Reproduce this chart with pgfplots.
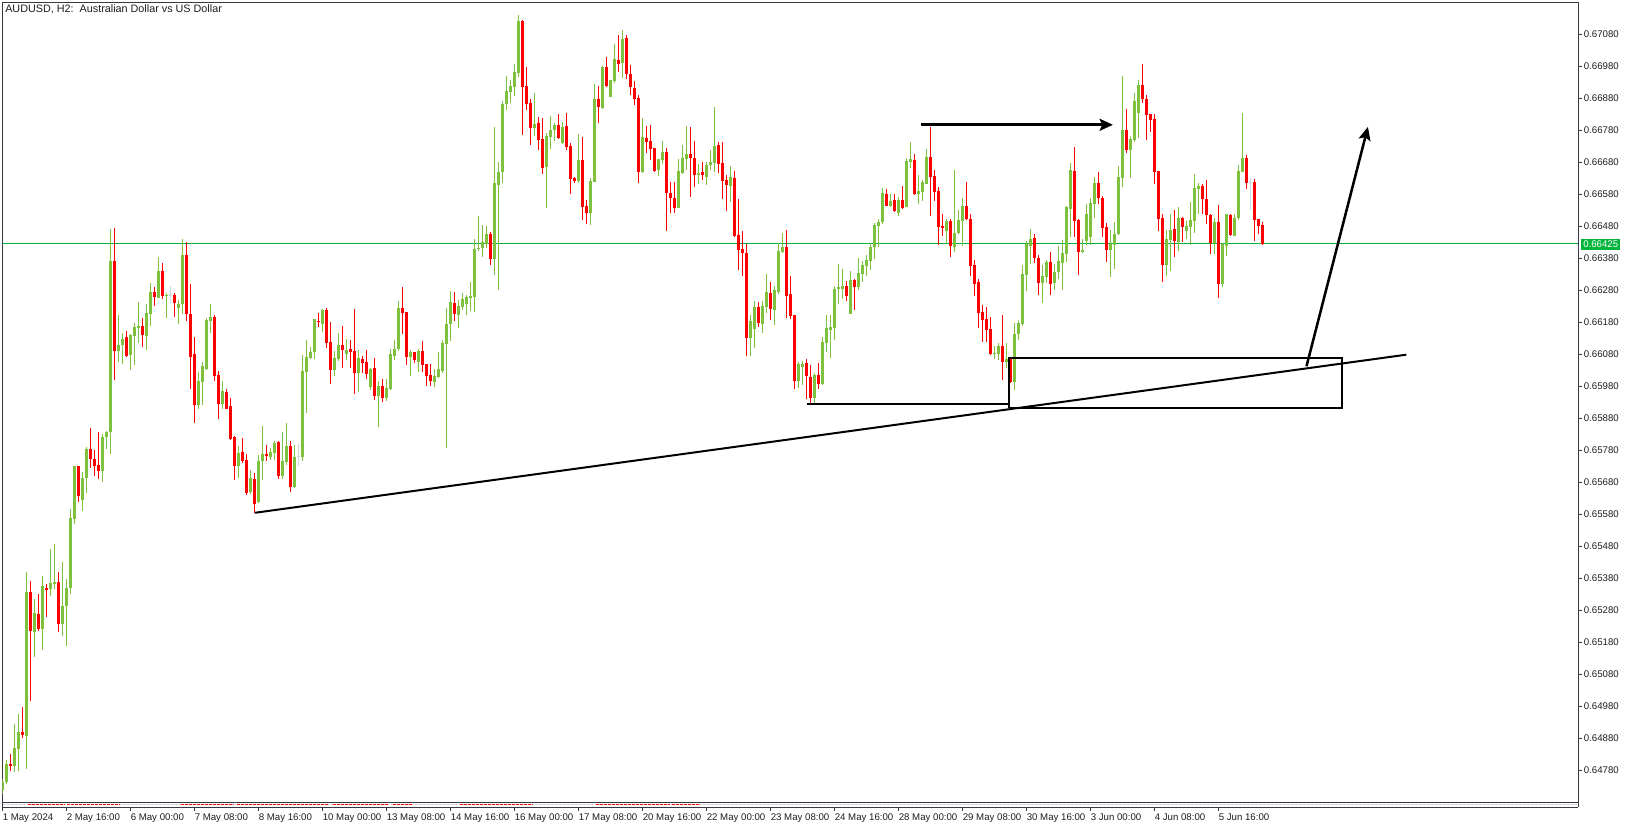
\documentclass[border=0pt]{standalone}
\usepackage{pgfplots}
\pgfplotsset{compat=1.18}
\usepackage{pgfplotstable}
\usepackage{fontspec}
\setmainfont{Liberation Sans}
\usetikzlibrary{arrows.meta}
\definecolor{upc}{RGB}{125,193,62}
\definecolor{dnc}{RGB}{255,0,0}
\definecolor{dojic}{RGB}{205,218,218}
\definecolor{pricegreen}{RGB}{0,180,60}
\definecolor{framec}{RGB}{54,58,64}
\definecolor{txtc}{RGB}{30,30,30}
\newcommand\lbl{\fontsize{7.25}{8.5}\selectfont}
\newcommand\ttl{\fontsize{8.1}{9.5}\selectfont}
\pgfplotstableread{
k o h l c
0 0.64718 0.64752 0.64705 0.64744
1 0.64744 0.64812 0.64739 0.64801
2 0.64801 0.64831 0.64778 0.64795
3 0.64795 0.64924 0.64776 0.64851
4 0.64848 0.64956 0.64778 0.64900
5 0.64900 0.64979 0.64883 0.64891
6 0.64888 0.65400 0.64784 0.65339
7 0.65339 0.65372 0.64998 0.65217
8 0.65212 0.65315 0.65136 0.65274
9 0.65270 0.65332 0.65217 0.65223
10 0.65221 0.65388 0.65155 0.65355
11 0.65352 0.65364 0.65259 0.65344
12 0.65347 0.65473 0.65324 0.65366
13 0.65366 0.65490 0.65347 0.65368
14 0.65367 0.65400 0.65212 0.65236
15 0.65236 0.65431 0.65200 0.65294
16 0.65293 0.65378 0.65167 0.65350
17 0.65349 0.65597 0.65330 0.65569
18 0.65566 0.65732 0.65549 0.65730
19 0.65730 0.65732 0.65619 0.65636
20 0.65626 0.65713 0.65591 0.65692
21 0.65692 0.65789 0.65645 0.65784
22 0.65784 0.65851 0.65726 0.65754
23 0.65754 0.65780 0.65701 0.65732
24 0.65733 0.65837 0.65692 0.65716
25 0.65716 0.65831 0.65681 0.65822
26 0.65822 0.65842 0.65786 0.65837
27 0.65837 0.66473 0.65769 0.66371
28 0.66371 0.66475 0.66000 0.66092
29 0.66092 0.66205 0.66058 0.66109
30 0.66109 0.66148 0.66050 0.66129
31 0.66133 0.66153 0.66073 0.66076
32 0.66080 0.66145 0.66031 0.66143
33 0.66138 0.66177 0.66047 0.66165
34 0.66163 0.66245 0.66117 0.66169
35 0.66169 0.66195 0.66102 0.66141
36 0.66138 0.66239 0.66094 0.66209
37 0.66207 0.66303 0.66169 0.66275
38 0.66275 0.66291 0.66232 0.66259
39 0.66257 0.66384 0.66255 0.66340
40 0.66340 0.66368 0.66255 0.66263
41 0.66263 0.66271 0.66193 0.66266
42 0.66266 0.66294 0.66239 0.66266
43 0.66266 0.66273 0.66197 0.66241
44 0.66225 0.66250 0.66175 0.66237
45 0.66237 0.66441 0.66206 0.66390
46 0.66390 0.66432 0.66184 0.66206
47 0.66209 0.66300 0.65972 0.66075
48 0.66081 0.66134 0.65867 0.65922
49 0.65922 0.66026 0.65911 0.65998
50 0.65994 0.66057 0.65922 0.66044
51 0.66034 0.66195 0.66031 0.66187
52 0.66184 0.66239 0.66148 0.66198
53 0.66198 0.66203 0.65998 0.66013
54 0.66016 0.66028 0.65878 0.65925
55 0.65925 0.65997 0.65911 0.65966
56 0.65962 0.65971 0.65908 0.65911
57 0.65919 0.65943 0.65812 0.65815
58 0.65823 0.65825 0.65687 0.65732
59 0.65732 0.65795 0.65695 0.65774
60 0.65774 0.65820 0.65742 0.65747
61 0.65750 0.65769 0.65640 0.65649
62 0.65649 0.65720 0.65644 0.65693
63 0.65693 0.65710 0.65585 0.65614
64 0.65618 0.65767 0.65616 0.65746
65 0.65746 0.65856 0.65687 0.65768
66 0.65768 0.65796 0.65746 0.65762
67 0.65762 0.65788 0.65751 0.65777
68 0.65772 0.65809 0.65751 0.65802
69 0.65806 0.65809 0.65691 0.65702
70 0.65702 0.65838 0.65691 0.65749
71 0.65744 0.65866 0.65736 0.65793
72 0.65793 0.65810 0.65650 0.65666
73 0.65666 0.65796 0.65664 0.65758
74 0.65761 0.65801 0.65732 0.65761
75 0.65760 0.66078 0.65747 0.66028
76 0.66025 0.66124 0.65897 0.66071
77 0.66069 0.66104 0.66065 0.66090
78 0.66088 0.66190 0.66067 0.66190
79 0.66187 0.66211 0.66166 0.66182
80 0.66176 0.66221 0.66150 0.66218
81 0.66218 0.66226 0.66101 0.66116
82 0.66118 0.66181 0.65988 0.66032
83 0.66032 0.66091 0.66014 0.66068
84 0.66065 0.66146 0.66060 0.66109
85 0.66109 0.66168 0.66039 0.66096
86 0.66081 0.66130 0.66065 0.66096
87 0.66096 0.66127 0.66038 0.66088
88 0.66090 0.66221 0.65957 0.66022
89 0.66022 0.66093 0.65963 0.66068
90 0.66067 0.66074 0.66022 0.66054
91 0.66056 0.66093 0.66005 0.66019
92 0.65977 0.66038 0.65970 0.66034
93 0.66037 0.66067 0.65937 0.65950
94 0.65950 0.65998 0.65854 0.65981
95 0.65981 0.66003 0.65932 0.65945
96 0.65945 0.66003 0.65935 0.65976
97 0.65972 0.66096 0.65968 0.66081
98 0.66076 0.66125 0.66062 0.66097
99 0.66097 0.66247 0.66091 0.66226
100 0.66226 0.66291 0.66146 0.66211
101 0.66213 0.66213 0.66047 0.66073
102 0.66073 0.66094 0.66012 0.66088
103 0.66088 0.66088 0.66054 0.66062
104 0.66057 0.66096 0.66026 0.66091
105 0.66091 0.66122 0.66026 0.66049
106 0.66050 0.66050 0.65982 0.66013
107 0.66015 0.66050 0.65982 0.65995
108 0.65995 0.66036 0.65979 0.66012
109 0.66010 0.66088 0.66005 0.66034
110 0.66029 0.66125 0.66023 0.66116
111 0.66114 0.66226 0.65789 0.66175
112 0.66174 0.66278 0.66122 0.66242
113 0.66242 0.66274 0.66185 0.66205
114 0.66205 0.66252 0.66163 0.66231
115 0.66229 0.66274 0.66221 0.66252
116 0.66237 0.66265 0.66205 0.66260
117 0.66257 0.66306 0.66215 0.66263
118 0.66260 0.66442 0.66213 0.66409
119 0.66409 0.66512 0.66403 0.66414
120 0.66413 0.66484 0.66385 0.66430
121 0.66427 0.66484 0.66413 0.66458
122 0.66458 0.66463 0.66359 0.66377
123 0.66378 0.66791 0.66328 0.66616
124 0.66611 0.66680 0.66281 0.66651
125 0.66651 0.66873 0.66615 0.66864
126 0.66862 0.66950 0.66844 0.66904
127 0.66901 0.66937 0.66865 0.66919
128 0.66915 0.66987 0.66888 0.66964
129 0.66960 0.67140 0.66948 0.67122
130 0.67122 0.67125 0.66766 0.66917
131 0.66919 0.66979 0.66844 0.66862
132 0.66867 0.66878 0.66737 0.66789
133 0.66789 0.66898 0.66762 0.66800
134 0.66802 0.66821 0.66719 0.66750
135 0.66753 0.66820 0.66644 0.66664
136 0.66664 0.66773 0.66539 0.66762
137 0.66760 0.66825 0.66722 0.66781
138 0.66781 0.66802 0.66747 0.66797
139 0.66797 0.66831 0.66753 0.66755
140 0.66743 0.66807 0.66737 0.66792
141 0.66794 0.66835 0.66719 0.66729
142 0.66731 0.66740 0.66581 0.66628
143 0.66632 0.66635 0.66615 0.66622
144 0.66622 0.66769 0.66615 0.66688
145 0.66688 0.66760 0.66502 0.66542
146 0.66544 0.66562 0.66487 0.66523
147 0.66523 0.66632 0.66484 0.66622
148 0.66620 0.66925 0.66620 0.66878
149 0.66878 0.66917 0.66802 0.66854
150 0.66852 0.66982 0.66849 0.66979
151 0.66979 0.67012 0.66917 0.66919
152 0.66885 0.66937 0.66885 0.66937
153 0.66934 0.67050 0.66927 0.67003
154 0.67000 0.67078 0.66964 0.66988
155 0.66990 0.67094 0.66945 0.67066
156 0.67068 0.67078 0.66941 0.66958
157 0.66958 0.66985 0.66890 0.66915
158 0.66915 0.66935 0.66860 0.66880
159 0.66880 0.66890 0.66617 0.66651
160 0.66651 0.66820 0.66646 0.66760
161 0.66757 0.66794 0.66710 0.66745
162 0.66747 0.66797 0.66687 0.66723
163 0.66724 0.66724 0.66651 0.66654
164 0.66656 0.66691 0.66639 0.66691
165 0.66690 0.66747 0.66674 0.66713
166 0.66713 0.66724 0.66464 0.66585
167 0.66586 0.66618 0.66521 0.66570
168 0.66571 0.66618 0.66524 0.66539
169 0.66540 0.66693 0.66540 0.66653
170 0.66649 0.66737 0.66646 0.66693
171 0.66691 0.66792 0.66656 0.66708
172 0.66708 0.66789 0.66570 0.66696
173 0.66696 0.66747 0.66604 0.66641
174 0.66641 0.66674 0.66612 0.66649
175 0.66650 0.66681 0.66625 0.66641
176 0.66635 0.66681 0.66610 0.66674
177 0.66674 0.66719 0.66656 0.66681
178 0.66679 0.66854 0.66651 0.66734
179 0.66734 0.66743 0.66648 0.66675
180 0.66677 0.66743 0.66565 0.66622
181 0.66625 0.66641 0.66529 0.66609
182 0.66607 0.66669 0.66557 0.66633
183 0.66633 0.66653 0.66448 0.66451
184 0.66453 0.66565 0.66344 0.66406
185 0.66409 0.66466 0.66326 0.66396
186 0.66398 0.66427 0.66076 0.66132
187 0.66130 0.66206 0.66078 0.66185
188 0.66158 0.66248 0.66101 0.66228
189 0.66229 0.66244 0.66166 0.66179
190 0.66175 0.66247 0.66148 0.66231
191 0.66229 0.66331 0.66208 0.66276
192 0.66273 0.66305 0.66187 0.66221
193 0.66218 0.66294 0.66171 0.66281
194 0.66276 0.66430 0.66268 0.66404
195 0.66401 0.66460 0.66398 0.66416
196 0.66416 0.66470 0.66194 0.66263
197 0.66268 0.66325 0.66190 0.66201
198 0.66203 0.66203 0.65971 0.65998
199 0.65998 0.66057 0.65977 0.66050
200 0.66041 0.66059 0.65984 0.66050
201 0.66054 0.66067 0.65942 0.66012
202 0.66012 0.66047 0.65927 0.65945
203 0.65945 0.66023 0.65925 0.66015
204 0.66015 0.66054 0.65974 0.65987
205 0.65987 0.66135 0.65986 0.66119
206 0.66116 0.66203 0.66088 0.66163
207 0.66156 0.66203 0.66069 0.66166
208 0.66163 0.66293 0.66125 0.66284
209 0.66284 0.66364 0.66239 0.66291
210 0.66286 0.66349 0.66255 0.66294
211 0.66294 0.66309 0.66248 0.66262
212 0.66206 0.66343 0.66206 0.66312
213 0.66312 0.66317 0.66218 0.66291
214 0.66291 0.66380 0.66281 0.66333
215 0.66333 0.66375 0.66309 0.66359
216 0.66357 0.66392 0.66325 0.66375
217 0.66372 0.66427 0.66343 0.66415
218 0.66415 0.66492 0.66380 0.66485
219 0.66481 0.66505 0.66417 0.66495
220 0.66495 0.66601 0.66487 0.66583
221 0.66583 0.66597 0.66542 0.66545
222 0.66545 0.66583 0.66542 0.66559
223 0.66562 0.66580 0.66526 0.66527
224 0.66523 0.66573 0.66512 0.66562
225 0.66562 0.66606 0.66536 0.66539
226 0.66542 0.66696 0.66542 0.66685
227 0.66682 0.66745 0.66663 0.66690
228 0.66690 0.66705 0.66578 0.66583
229 0.66583 0.66640 0.66550 0.66591
230 0.66588 0.66625 0.66559 0.66620
231 0.66614 0.66723 0.66612 0.66698
232 0.66698 0.66792 0.66513 0.66635
233 0.66637 0.66659 0.66562 0.66588
234 0.66591 0.66604 0.66422 0.66479
235 0.66481 0.66519 0.66451 0.66476
236 0.66466 0.66503 0.66429 0.66497
237 0.66497 0.66505 0.66385 0.66417
238 0.66417 0.66656 0.66401 0.66461
239 0.66459 0.66531 0.66456 0.66500
240 0.66498 0.66568 0.66420 0.66544
241 0.66544 0.66620 0.66500 0.66503
242 0.66505 0.66518 0.66326 0.66359
243 0.66359 0.66375 0.66262 0.66300
244 0.66305 0.66315 0.66163 0.66210
245 0.66213 0.66234 0.66120 0.66187
246 0.66190 0.66227 0.66120 0.66158
247 0.66159 0.66198 0.66078 0.66081
248 0.66081 0.66106 0.66067 0.66085
249 0.66081 0.66116 0.66062 0.66106
250 0.66106 0.66203 0.66000 0.66057
251 0.66057 0.66116 0.66039 0.66067
252 0.66067 0.66067 0.65989 0.65994
253 0.65994 0.66177 0.65968 0.66145
254 0.66145 0.66189 0.66124 0.66179
255 0.66177 0.66359 0.66170 0.66333
256 0.66328 0.66435 0.66279 0.66425
257 0.66420 0.66474 0.66362 0.66441
258 0.66443 0.66458 0.66367 0.66382
259 0.66383 0.66391 0.66266 0.66304
260 0.66302 0.66359 0.66240 0.66325
261 0.66323 0.66377 0.66304 0.66370
262 0.66370 0.66401 0.66266 0.66302
263 0.66302 0.66362 0.66281 0.66339
264 0.66336 0.66420 0.66315 0.66370
265 0.66365 0.66437 0.66281 0.66396
266 0.66393 0.66544 0.66368 0.66539
267 0.66534 0.66679 0.66448 0.66656
268 0.66653 0.66729 0.66448 0.66498
269 0.66500 0.66503 0.66330 0.66401
270 0.66399 0.66441 0.66396 0.66408
271 0.66435 0.66550 0.66424 0.66519
272 0.66448 0.66570 0.66424 0.66552
273 0.66550 0.66637 0.66508 0.66617
274 0.66617 0.66651 0.66549 0.66568
275 0.66571 0.66575 0.66446 0.66476
276 0.66479 0.66490 0.66370 0.66406
277 0.66406 0.66469 0.66323 0.66425
278 0.66424 0.66495 0.66347 0.66458
279 0.66456 0.66669 0.66453 0.66635
280 0.66632 0.66950 0.66601 0.66781
281 0.66781 0.66847 0.66710 0.66719
282 0.66719 0.66762 0.66632 0.66753
283 0.66750 0.66896 0.66745 0.66872
284 0.66835 0.66937 0.66758 0.66922
285 0.66922 0.66987 0.66865 0.66878
286 0.66880 0.66891 0.66750 0.66828
287 0.66831 0.66831 0.66776 0.66812
288 0.66816 0.66833 0.66612 0.66651
289 0.66653 0.66653 0.66466 0.66503
290 0.66507 0.66519 0.66307 0.66359
291 0.66362 0.66467 0.66325 0.66441
292 0.66437 0.66519 0.66341 0.66469
293 0.66471 0.66531 0.66385 0.66434
294 0.66432 0.66542 0.66403 0.66508
295 0.66508 0.66510 0.66432 0.66479
296 0.66467 0.66497 0.66441 0.66481
297 0.66479 0.66557 0.66422 0.66500
298 0.66498 0.66644 0.66460 0.66599
299 0.66597 0.66615 0.66518 0.66606
300 0.66606 0.66611 0.66519 0.66565
301 0.66566 0.66625 0.66487 0.66516
302 0.66516 0.66519 0.66394 0.66429
303 0.66429 0.66508 0.66394 0.66495
304 0.66495 0.66547 0.66257 0.66300
305 0.66300 0.66429 0.66292 0.66425
306 0.66419 0.66519 0.66387 0.66519
307 0.66516 0.66519 0.66451 0.66453
308 0.66450 0.66519 0.66450 0.66508
309 0.66507 0.66672 0.66500 0.66653
310 0.66651 0.66835 0.66651 0.66695
311 0.66695 0.66705 0.66597 0.66617
312 0.66617 0.66630 0.66531 0.66617
313 0.66620 0.66628 0.66437 0.66500
314 0.66503 0.66503 0.66458 0.66482
315 0.66484 0.66492 0.66422 0.66425
}\candles
\pgfplotsset{
  wick/.style={only marks, mark=*, mark size=0pt, mark options={draw=none, fill=none},
    error bars/y dir=both, error bars/y explicit,
    error bars/error mark=none, error bars/error bar style={line width=0.75pt, draw=#1}},
  body/.style={only marks, mark=*, mark size=0pt, mark options={draw=none, fill=none},
    error bars/y dir=both, error bars/y explicit,
    error bars/error mark=none, error bars/error bar style={line width=2.4pt, draw=#1}},
}
\begin{document}
\begin{tikzpicture}
\useasboundingbox (-1.725pt,-19.5pt) rectangle (1221.525pt,601.5pt);
\fill[white] (-1.725pt,-19.5pt) rectangle (1221.525pt,601.5pt);
\begin{axis}[
  scale only axis, width=1181.775pt, height=599.475pt,
  xmin=-0.05, xmax=393.875, ymin=0.646809, ymax=0.671788,
  axis line style={draw=framec, line width=0.75pt},
  tick align=outside, major tick length=3pt,
  tick style={draw=framec, line width=0.75pt},
  x tick style={yshift=-3.75pt},
  ytick pos=right, yticklabel pos=right, xtick pos=bottom,
  scaled y ticks=false,
  tick label style={font=\lbl, text=txtc},
  ytick={0.6478,0.6488,0.6498,0.6508,0.6518,0.6528,0.6538,0.6548,0.6558,0.6568,0.6578,0.6588,0.6598,0.6608,0.6618,0.6628,0.6638,0.6648,0.6658,0.6668,0.6678,0.6688,0.6698,0.6708},
  yticklabels={0.64780,0.64880,0.64980,0.65080,0.65180,0.65280,0.65380,0.65480,0.65580,0.65680,0.65780,0.65880,0.65980,0.66080,0.66180,0.66280,0.66380,0.66480,0.66580,0.66680,0.66780,0.66880,0.66980,0.67080},
  yticklabel style={anchor=west, inner sep=0pt, xshift=1.2pt},
  xtick={0,16,32,48,64,80,96,112,128,144,160,176,192,208,224,240,256,272,288,304},
  xticklabels={1 May 2024,2 May 16:00,6 May 00:00,7 May 08:00,8 May 16:00,10 May 00:00,13 May 08:00,14 May 16:00,16 May 00:00,17 May 08:00,20 May 16:00,22 May 00:00,23 May 08:00,24 May 16:00,28 May 00:00,29 May 08:00,30 May 16:00,3 Jun 00:00,4 Jun 08:00,5 Jun 16:00},
  xticklabel style={anchor=north west, inner sep=0pt, yshift=-5.25pt},
]
% current price line
\addplot[pricegreen, line width=0.75pt] coordinates {(-0.05,0.66425) (393.875,0.66425)};
% wicks
\addplot[upc, restrict expr to domain={\thisrow{c}-\thisrow{o}}{0.0000001:1}, wick=upc]
  table[x=k, y expr={(\thisrow{h}+\thisrow{l})/2}, y error expr={(\thisrow{h}-\thisrow{l})/2}] {\candles};
\addplot[dnc, restrict expr to domain={\thisrow{c}-\thisrow{o}}{-1:-0.0000001}, wick=dnc]
  table[x=k, y expr={(\thisrow{h}+\thisrow{l})/2}, y error expr={(\thisrow{h}-\thisrow{l})/2}] {\candles};
\addplot[dojic, restrict expr to domain={\thisrow{c}-\thisrow{o}}{-0.0000001:0.0000001}, wick=dojic]
  table[x=k, y expr={(\thisrow{h}+\thisrow{l})/2}, y error expr={(\thisrow{h}-\thisrow{l})/2}] {\candles};
% bodies
\addplot[upc, restrict expr to domain={\thisrow{c}-\thisrow{o}}{0.0000001:1}, body=upc]
  table[x=k, y expr={(\thisrow{o}+\thisrow{c})/2}, y error expr={max(abs(\thisrow{c}-\thisrow{o})/2,0.000016)}] {\candles};
\addplot[dnc, restrict expr to domain={\thisrow{c}-\thisrow{o}}{-1:-0.0000001}, body=dnc]
  table[x=k, y expr={(\thisrow{o}+\thisrow{c})/2}, y error expr={max(abs(\thisrow{c}-\thisrow{o})/2,0.000016)}] {\candles};
\addplot[dojic, restrict expr to domain={\thisrow{c}-\thisrow{o}}{-0.0000001:0.0000001}, body=dojic]
  table[x=k, y expr={(\thisrow{o}+\thisrow{c})/2}, y error expr={0.000016}] {\candles};
% annotations
\addplot[black, line width=1.5pt] coordinates {(63.09,0.655847) (350.96,0.660788)};
\addplot[black, line width=1.5pt] coordinates {(201.2,0.659259) (251.9,0.659259)};
\addplot[black, line width=1.5pt] coordinates {(251.6,0.659128) (334.85,0.659128) (334.85,0.660690) (251.6,0.660690) (251.6,0.659128)};
\addplot[black, line width=2.25pt, -{Stealth[length=10pt,width=9pt,inset=2pt]}] coordinates {(229.6,0.667972) (277.6,0.667972)};
\addplot[black, line width=1.9pt, -{Stealth[length=10pt,width=9pt,inset=2pt]}] coordinates {(326.0,0.660428) (341.35,0.667906)};
\end{axis}
\begin{scope}[shift={(-1.725pt,601.5pt)}, x=0.75pt, y=-0.75pt]
  \fill[white] (2.3,802.5) rectangle (1578,806.5);
  \draw[framec, line width=0.75pt] (2.3,807) -- (1578,807);
  \draw[framec, line width=0.75pt] (2.3,802) -- (2.3,807);
  \draw[framec, line width=0.75pt] (1578,802) -- (1578,807);
  \draw[gray!40, line width=0.75pt, dash pattern=on 2.25pt off 0.75pt] (3,804.5) -- (1577,804.5);
  \foreach \a/\b in {28/65,67/120,181/234,237/328,333/388,393/413,460/533,596/670,672/700}
    \draw[dnc, line width=0.75pt, dash pattern=on 2.25pt off 0.75pt] (\a,804.5) -- (\b,804.5);
  \node[anchor=west, inner sep=0pt, font=\ttl, text=txtc] at (5,9.5) {AUDUSD, H2:\ \ Australian Dollar vs US Dollar};
  \node[anchor=west, fill=pricegreen, text=white, font=\lbl, inner xsep=1.5pt, inner ysep=1.5pt] at (1581,244.3) {0.66425};
\end{scope}
\end{tikzpicture}
\end{document}
